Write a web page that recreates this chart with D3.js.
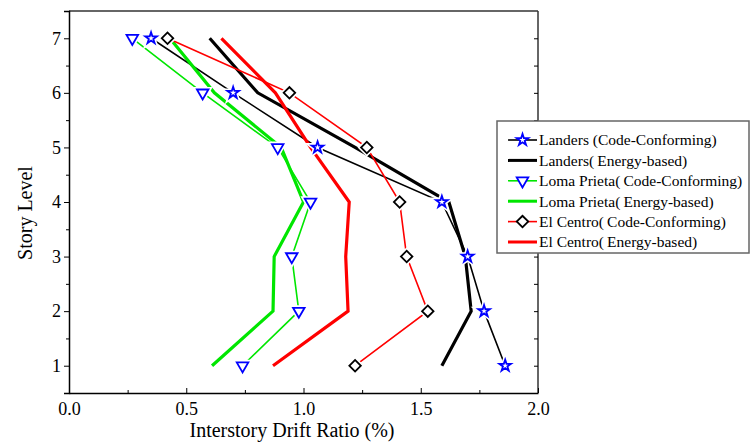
<!DOCTYPE html>
<html>
<head>
<meta charset="utf-8">
<script src="https://cdn.jsdelivr.net/npm/d3@7"></script>
<style>
  html, body { margin: 0; padding: 0; background: #fff; overflow: hidden; }
  svg { display: block; }
  svg text { fill: #000; }
</style>
</head>
<body>
<div id="chart"></div>
<script>
// data
const stories = [1, 2, 3, 4, 5, 6, 7];
const landersCC = [1.86, 1.77, 1.70, 1.59, 1.06, 0.70, 0.35];
const landersEB = [1.59, 1.715, 1.69, 1.62, 1.22, 0.805, 0.60];
const lomaCC = [0.74, 0.98, 0.95, 1.03, 0.89, 0.57, 0.27];
const lomaEB = [0.61, 0.87, 0.875, 1.0, 0.905, 0.62, 0.43];
const centroCC = [1.22, 1.53, 1.44, 1.41, 1.27, 0.94, 0.42];
const centroEB = [0.87, 1.19, 1.18, 1.195, 1.03, 0.88, 0.65];
const seriesNames = [
  "Landers (Code-Conforming)",
  "Landers(\u2009Energy-based)",
  "Loma Prieta(\u2009Code-Conforming)",
  "Loma Prieta(\u2009Energy-based)",
  "El Centro(\u2009Code-Conforming)",
  "El Centro(\u2009Energy-based)"
];
const xTicks = [0, 0.5, 1.0, 1.5, 2.0];
const yTicks = [1, 2, 3, 4, 5, 6, 7];

const series = [
  { name: seriesNames[0], values: landersCC, color: "#000", width: 1.6, marker: "star", mcolor: "#0000ff" },
  { name: seriesNames[1], values: landersEB, color: "#000", width: 3.2, marker: null },
  { name: seriesNames[2], values: lomaCC, color: "#00e600", width: 1.6, marker: "tri", mcolor: "#0000ff" },
  { name: seriesNames[3], values: lomaEB, color: "#00e600", width: 3.2, marker: null },
  { name: seriesNames[4], values: centroCC, color: "#ff0000", width: 1.6, marker: "diamond", mcolor: "#000" },
  { name: seriesNames[5], values: centroEB, color: "#ff0000", width: 3.2, marker: null }
];

const FONT = "Liberation Serif, Times New Roman, serif";

//size
const width = 750;
const height = 444;
const margin = { top: 11, left: 69, right: 212, bottom: 51 };
const innerWidth = width - margin.left - margin.right;
const innerHeight = height - margin.top - margin.bottom;

const x = d3.scaleLinear().domain([0, 2]).range([0, innerWidth]);
const y = d3.scaleLinear().domain([0.5, 7.5]).range([innerHeight, 0]);

const svg = d3.select("#chart").append("svg")
  .attr("width", width)
  .attr("height", height)
  .attr("font-family", FONT);

const g = svg.append("g")
  .attr("transform", `translate(${margin.left},${margin.top})`);

// marker shapes
const symbols = {
  star: d3.symbol().type(d3.symbolStar).size(42),
  tri: d3.symbol().type(d3.symbolTriangle).size(58),
  diamond: d3.symbol().type(d3.symbolSquare).size(66)
};
const rotation = { star: 0, tri: 180, diamond: 45 };

function drawMarker(sel, type, color, halo) {
  if (halo) {
    sel.append("path")
      .attr("d", symbols[type]())
      .attr("transform", `rotate(${rotation[type]})`)
      .attr("fill", "#fff")
      .attr("stroke", "#fff")
      .attr("stroke-width", 5);
  }
  sel.append("path")
    .attr("d", symbols[type]())
    .attr("transform", `rotate(${rotation[type]})`)
    .attr("fill", "#fff")
    .attr("stroke", color)
    .attr("stroke-width", 1.8);
}

// lines
const line = d3.line()
  .x((d) => x(d[0]))
  .y((d) => y(d[1]));

series.forEach((s) => {
  const pts = s.values.map((v, i) => [v, stories[i]]);
  g.append("path")
    .attr("d", line(pts))
    .attr("fill", "none")
    .attr("stroke", s.color)
    .attr("stroke-width", s.width);
});

series.forEach((s) => {
  if (!s.marker) return;
  s.values.forEach((v, i) => {
    const m = g.append("g").attr("transform", `translate(${x(v)},${y(stories[i])})`);
    drawMarker(m, s.marker, s.mcolor, true);
  });
});

// frame
g.append("line").attr("x1", 0).attr("x2", innerWidth).attr("y1", 0).attr("y2", 0)
  .attr("stroke", "#333").attr("stroke-width", 1.5);
g.append("line").attr("x1", innerWidth).attr("x2", innerWidth).attr("y1", 0).attr("y2", innerHeight)
  .attr("stroke", "#333").attr("stroke-width", 1.5);

// left axis
g.append("g")
  .call(d3.axisLeft(y).tickValues(yTicks).tickFormat(d3.format("d")).tickSize(5).tickPadding(3))
  .attr("font-family", FONT)
  .attr("font-size", 18)
  .call((a) => a.select(".domain").attr("stroke-width", 1.5));
g.append("g")
  .call(d3.axisLeft(y).tickValues([1.5, 2.5, 3.5, 4.5, 5.5, 6.5]).tickFormat("").tickSize(3))
  .call((a) => a.select(".domain").remove());

// right axis ticks (inward)
g.append("g")
  .attr("transform", `translate(${innerWidth},0)`)
  .call(d3.axisLeft(y).tickValues(d3.range(1, 7.5, 0.5)).tickFormat("").tickSize(4))
  .call((a) => a.select(".domain").remove());

// bottom axis
g.append("g")
  .attr("transform", `translate(0,${innerHeight})`)
  .call(d3.axisBottom(x).tickValues(xTicks).tickFormat(d3.format(".1f")).tickSize(0).tickPadding(9))
  .attr("font-family", FONT)
  .attr("font-size", 18)
  .call((a) => a.select(".domain").attr("stroke-width", 1.5));
g.append("g")
  .attr("transform", `translate(0,${innerHeight})`)
  .call(d3.axisTop(x).tickValues(xTicks).tickFormat("").tickSize(5))
  .call((a) => a.select(".domain").remove());
g.append("g")
  .attr("transform", `translate(0,${innerHeight})`)
  .call(d3.axisTop(x).tickValues([0.25, 0.75, 1.25, 1.75]).tickFormat("").tickSize(3))
  .call((a) => a.select(".domain").remove());

// axis titles
svg.append("text")
  .attr("x", 292)
  .attr("y", 437)
  .attr("text-anchor", "middle")
  .attr("font-size", 20)
  .text("Interstory Drift Ratio (%)");
svg.append("text")
  .attr("transform", "translate(32,213) rotate(-90)")
  .attr("text-anchor", "middle")
  .attr("font-size", 20)
  .text("Story Level");

// legend
const legend = svg.append("g").attr("transform", "translate(497,121)");
legend.append("rect")
  .attr("width", 252).attr("height", 132)
  .attr("fill", "#fff").attr("stroke", "#666").attr("stroke-width", 1.5);
series.forEach((s, i) => {
  const row = legend.append("g").attr("transform", `translate(0,${19 + i * 20.4})`);
  row.append("line")
    .attr("x1", 11).attr("x2", 40)
    .attr("stroke", s.color).attr("stroke-width", s.width === 1.6 ? 1.6 : 3);
  if (s.marker) {
    const m = row.append("g").attr("transform", "translate(25.5,0)");
    drawMarker(m, s.marker, s.mcolor, false);
  }
  row.append("text")
    .attr("x", 42).attr("y", 0)
    .attr("dy", "0.35em")
    .attr("font-size", 15.5)
    .text(s.name);
});
</script>
</body>
</html>
